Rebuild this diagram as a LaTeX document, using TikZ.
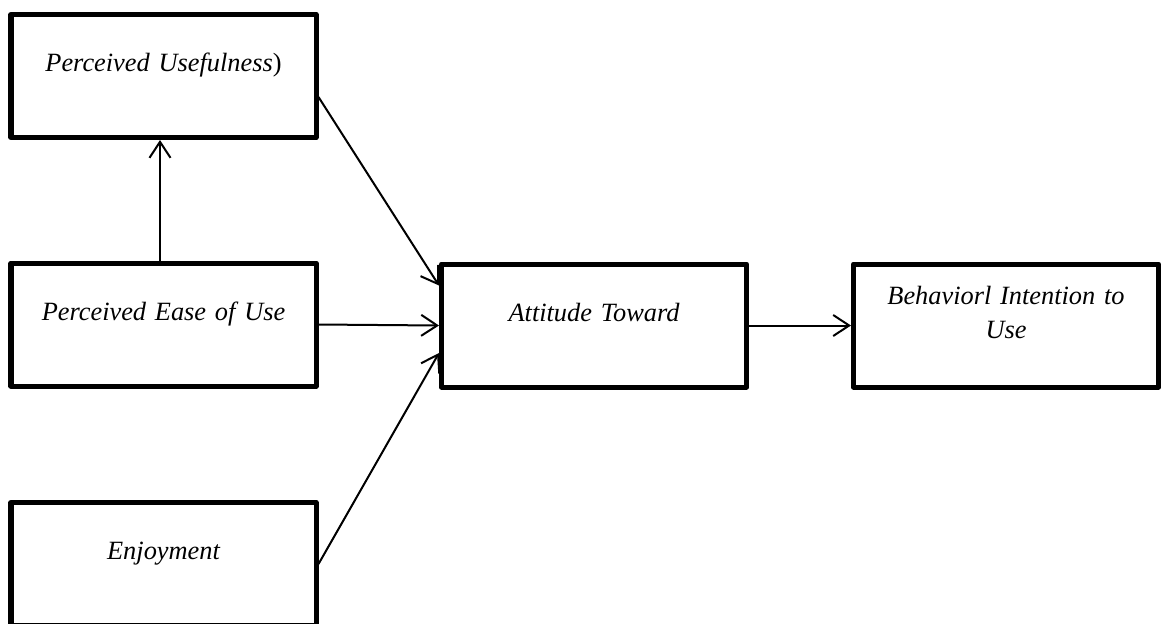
\documentclass[tikz,border=0pt]{standalone}
\usepackage{fontspec}
\setmainfont{Liberation Serif}
\usetikzlibrary{arrows.meta}

\tikzset{
  box/.style={draw, line width=0.1cm, line join=round, minimum width=6.1cm, minimum height=2.46cm,
    text width=5.7cm, align=center, font=\fontsize{15}{19.5}\selectfont\itshape,
    text height=0.38cm, text depth=0.56cm},
  conn/.style={-{Straight Barb[length=0.32cm,width=0.42cm]}, line width=0.04cm}
}

\begin{document}
\begin{tikzpicture}
				\useasboundingbox (0,0) rectangle (23.24,-12.46);
				\begin{scope}
					\node[box] (PU) at (3.27,-1.52) {Perceived Usefulness\textup{)}};
					\node[box] (PEOU) at (3.27,-6.49) {Perceived Ease of Use};
					\node[box] (EN) at (3.27,-11.28) {Enjoyment};
					\node[box] (AT) at (11.88,-6.51) {Attitude Toward};
					\node[box, text depth=1.24cm] (BI) at (20.12,-6.51) {Behaviorl Intention to\\Use};

					\draw[conn] ([xshift=-0.07cm]PEOU.north) -- ([xshift=-0.07cm]PU.south); % da PEOU a PU
					\draw[conn] ([yshift=-0.42cm]PU.east) -- ([yshift=0.8cm]AT.west); % da PU a AT
					\draw[conn] (PEOU.east) -- (AT.west); % da PEOU a AT
					\draw[conn] (EN.east) -- ([yshift=-0.55cm]AT.west); % da EN a AT
					\draw[conn] (AT.east) -- (BI.west); % da AT a BI
				\end{scope}
			\end{tikzpicture}
\end{document}
